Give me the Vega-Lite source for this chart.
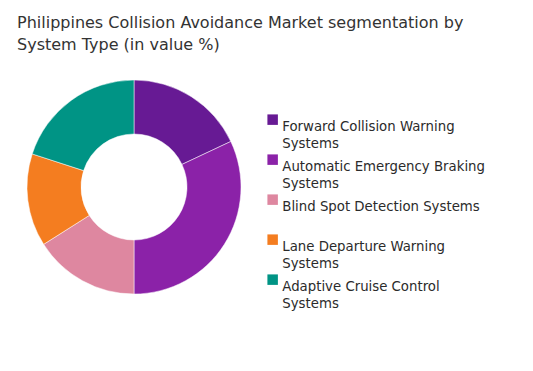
{
  "$schema": "https://vega.github.io/schema/vega-lite/v6.json",
  "width": 214,
  "height": 214,
  "autosize": {"type": "pad"},
  "padding": {"left": 17, "top": 15, "right": 5, "bottom": 5},
  "background": "white",
  "config": {"style": {"guide-label": {"lineHeight": 17.5}}},
  "title": {
    "text": ["Philippines Collision Avoidance Market segmentation by", "System Type (in value %)"],
    "anchor": "start",
    "frame": "group",
    "dx": -10,
    "font": "DejaVu Sans",
    "fontSize": 16,
    "fontWeight": "normal",
    "color": "#333333",
    "lineHeight": 22,
    "offset": 26
  },
  "data": {
    "values": [
      {"idx": 1, "system": "Forward Collision Warning Systems", "share": 18},
      {"idx": 2, "system": "Automatic Emergency Braking Systems", "share": 32},
      {"idx": 3, "system": "Blind Spot Detection Systems", "share": 16},
      {"idx": 4, "system": "Lane Departure Warning Systems", "share": 14},
      {"idx": 5, "system": "Adaptive Cruise Control Systems", "share": 20}
    ]
  },
  "mark": {"type": "arc", "innerRadius": 53, "outerRadius": 107, "stroke": "white", "strokeWidth": 0.5},
  "encoding": {
    "theta": {"field": "share", "type": "quantitative", "stack": true},
    "order": {"field": "idx", "type": "quantitative"},
    "color": {
      "field": "system",
      "type": "nominal",
      "scale": {
        "domain": ["Forward Collision Warning Systems", "Automatic Emergency Braking Systems", "Blind Spot Detection Systems", "Lane Departure Warning Systems", "Adaptive Cruise Control Systems"],
        "range": ["#671A94", "#8B22A8", "#DE87A0", "#F47D20", "#009485"]
      },
      "legend": {
        "title": null,
        "orient": "none",
        "legendX": 239,
        "legendY": 33,
        "symbolType": "square",
        "symbolSize": 110,
        "symbolStrokeWidth": 0,
        "labelFont": "DejaVu Sans",
        "labelFontSize": 13.3,
        "labelColor": "#2b2b2b",
        "labelOffset": 3,
        "labelLimit": 400,
        "labelBaseline": "top",
        "rowPadding": 2,
        "labelExpr": "datum.label == 'Forward Collision Warning Systems' ? ['Forward Collision Warning', 'Systems'] : datum.label == 'Automatic Emergency Braking Systems' ? ['Automatic Emergency Braking', 'Systems'] : datum.label == 'Blind Spot Detection Systems' ? ['Blind Spot Detection Systems', ' '] : datum.label == 'Lane Departure Warning Systems' ? ['Lane Departure Warning', 'Systems'] : ['Adaptive Cruise Control', 'Systems']"
      }
    }
  },
  "view": {"stroke": null}
}
